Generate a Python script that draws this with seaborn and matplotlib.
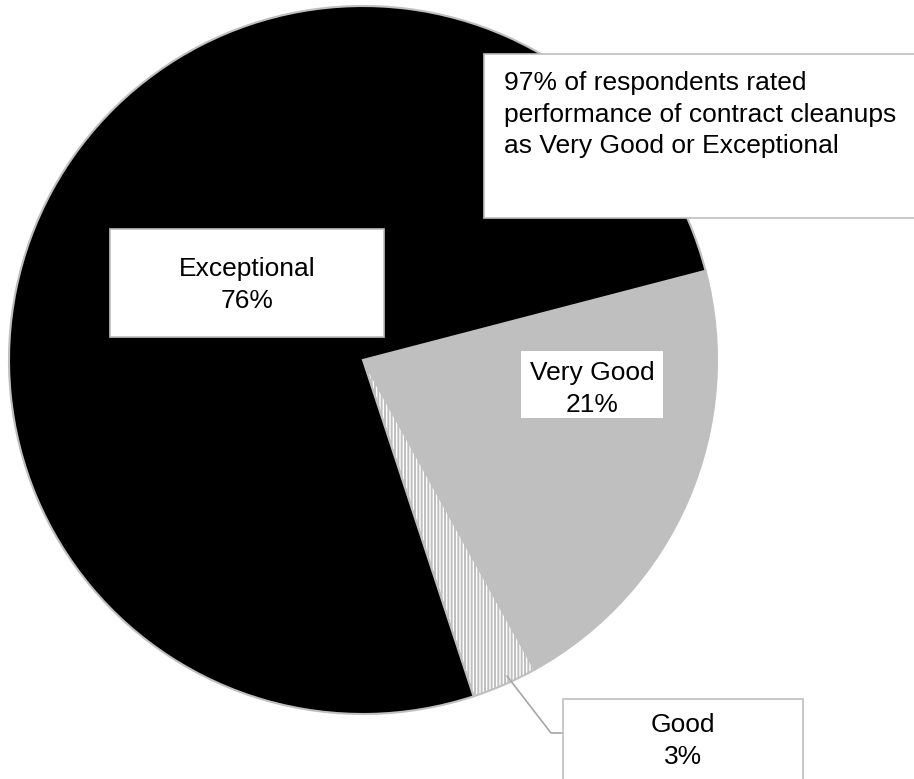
import matplotlib
matplotlib.use("Agg")
import matplotlib.pyplot as plt
from matplotlib.patches import Rectangle
import seaborn as sns

# data
categories = ["Very Good", "Good", "Exceptional"]
shares = [21, 3, 76]
note = "97% of respondents rated\nperformance of contract cleanups\nas Very Good or Exceptional"

# styles
slice_colors = ["#bfbfbf", "white", "black"]
slice_hatches = [None, "|||||", None]
edge_gray = "#bfbfbf"

sns.set_theme(style="white")
plt.rcParams["font.family"] = ["Liberation Sans", "DejaVu Sans"]
plt.rcParams["text.color"] = "black"
plt.rcParams["hatch.linewidth"] = 1.4
plt.rcParams["hatch.color"] = edge_gray

W, H = 914, 779
fig = plt.figure(figsize=(W / 100, H / 100), dpi=100)
ax = fig.add_axes([0, 0, 1, 1])

cx, cy, r = 363, H - 360, 354
wedges, _ = ax.pie(shares, colors=slice_colors, startangle=14.6, counterclock=False,
                   center=(cx, cy), radius=r,
                   wedgeprops=dict(edgecolor=edge_gray, linewidth=1.5))
for w, h in zip(wedges, slice_hatches):
    if h:
        w.set_hatch(h)

ax.set_xlim(0, W)
ax.set_ylim(0, H)
ax.set_aspect("equal")
ax.axis("off")

fs = 19
ls = 1.4


def box(x0, y0, x1, y1, border=True):
    ax.add_patch(Rectangle((x0, H - y1), x1 - x0, y1 - y0, facecolor="white",
                           edgecolor=edge_gray if border else "none", linewidth=1.2, zorder=3))


# note box
box(484, 54, 930, 218)
ax.text(504, H - 71, note, fontsize=fs, ha="left", va="top", linespacing=ls,
        color="black", zorder=4)

# data labels
lab = {c: f"{c}\n{v}%" for c, v in zip(categories, shares)}

box(110, 229, 384, 337)
ax.text(247, H - 257, lab["Exceptional"], fontsize=fs, ha="center", va="top",
        multialignment="center", linespacing=ls, color="black", zorder=4)

box(521, 351, 663, 418, border=False)
ax.text(592, H - 361, lab["Very Good"], fontsize=fs, ha="center", va="top",
        multialignment="center", linespacing=ls, color="black", zorder=4)

box(563, 699, 803, 800)
ax.plot([507, 551, 563], [H - 676, H - 733, H - 733], color="#a6a6a6", linewidth=1.2, zorder=2)
ax.text(683, H - 713, lab["Good"], fontsize=fs, ha="center", va="top",
        multialignment="center", linespacing=ls, color="black", zorder=4)

fig.savefig("out.png", dpi=100)
